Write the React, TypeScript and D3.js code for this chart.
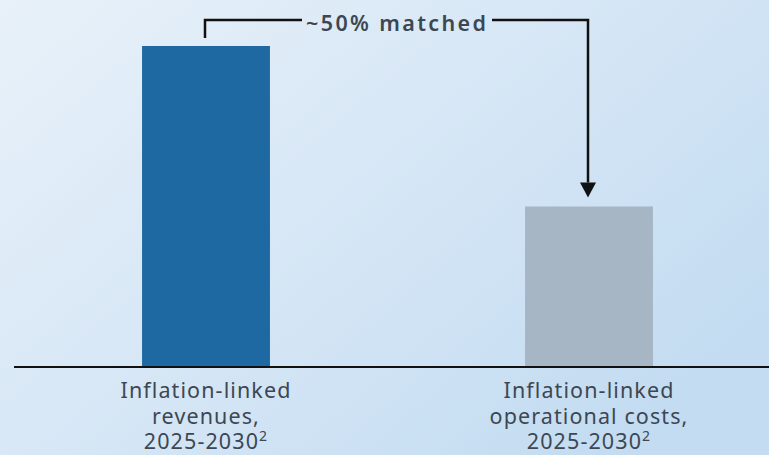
import React from "react";
import * as d3 from "d3";

const categories = ["revenues", "costs"];
const values = [100, 50];
const labelLines = [
  ["Inflation-linked", "revenues,", "2025-2030"],
  ["Inflation-linked", "operational costs,", "2025-2030"],
];
const footnote = "2";
const annotation = "~50% matched";
const barColors = ["#1f69a3", "#a7b6c4"];

const W = 769;
const H = 455;

export default function App() {
  const x = d3
    .scaleBand<string>()
    .domain(categories)
    .range([14.5, 780.5])
    .paddingInner(0.666)
    .paddingOuter(0.333);
  const y = d3.scaleLinear().domain([0, 100]).range([367, 46]);
  const bw = x.bandwidth();
  const c0 = (x(categories[0]) as number) + bw / 2;
  const c1 = (x(categories[1]) as number) + bw / 2;
  const topY = 20;
  const textColor = "#3d4752";
  const font = "'Noto Sans', 'Open Sans', sans-serif";

  return (
    <svg
      width={W}
      height={H}
      style={{ position: "absolute", left: 0, top: 0, display: "block" }}
    >
      <defs>
        <linearGradient id="bg" x1="0" y1="0" x2="1" y2="0.7">
          <stop offset="0%" stopColor="#e8f1f9" />
          <stop offset="50%" stopColor="#d7e7f6" />
          <stop offset="100%" stopColor="#c3dcf1" />
        </linearGradient>
      </defs>
      <rect x={0} y={0} width={W} height={H} fill="url(#bg)" />
      {categories.map((c, i) => (
        <rect
          key={c}
          x={x(c)}
          y={y(values[i])}
          width={bw}
          height={y(0) - y(values[i])}
          fill={barColors[i]}
        />
      ))}
      <line x1={14} x2={W} y1={y(0)} y2={y(0)} stroke="#111" strokeWidth={2} />
      {/* bracket annotation */}
      <path
        d={`M${c0 - 1},${y(values[0]) - 8} V${topY} H302`}
        fill="none"
        stroke="#111"
        strokeWidth={2.5}
      />
      <path
        d={`M492,${topY} H${c1 - 1} V${y(values[1]) - 24}`}
        fill="none"
        stroke="#111"
        strokeWidth={2.5}
      />
      <path
        d={`M${c1 - 9},${y(values[1]) - 24} L${c1 + 7},${y(values[1]) - 24} L${c1 - 1},${y(values[1]) - 9} Z`}
        fill="#111"
      />
      <text
        x={306}
        y={31}
        fontFamily={font}
        fontWeight={600}
        fontSize={21.5}
        fill="#3d4752"
        textLength={180}
        lengthAdjust="spacing"
      >
        {annotation}
      </text>
      {categories.map((c, i) => {
        const cx = i === 0 ? c0 : c1;
        return (
          <text
            key={c}
            textAnchor="middle"
            fontFamily={font}
            fontSize={21.5}
            letterSpacing={1.1}
            fill={textColor}
          >
            {labelLines[i].map((l, j) => (
              <tspan key={j} x={cx} y={398 + j * 25.5}>
                {l}
                {j === 2 ? (
                  <tspan fontSize={14} dy={-8}>
                    {footnote}
                  </tspan>
                ) : null}
              </tspan>
            ))}
          </text>
        );
      })}
    </svg>
  );
}
